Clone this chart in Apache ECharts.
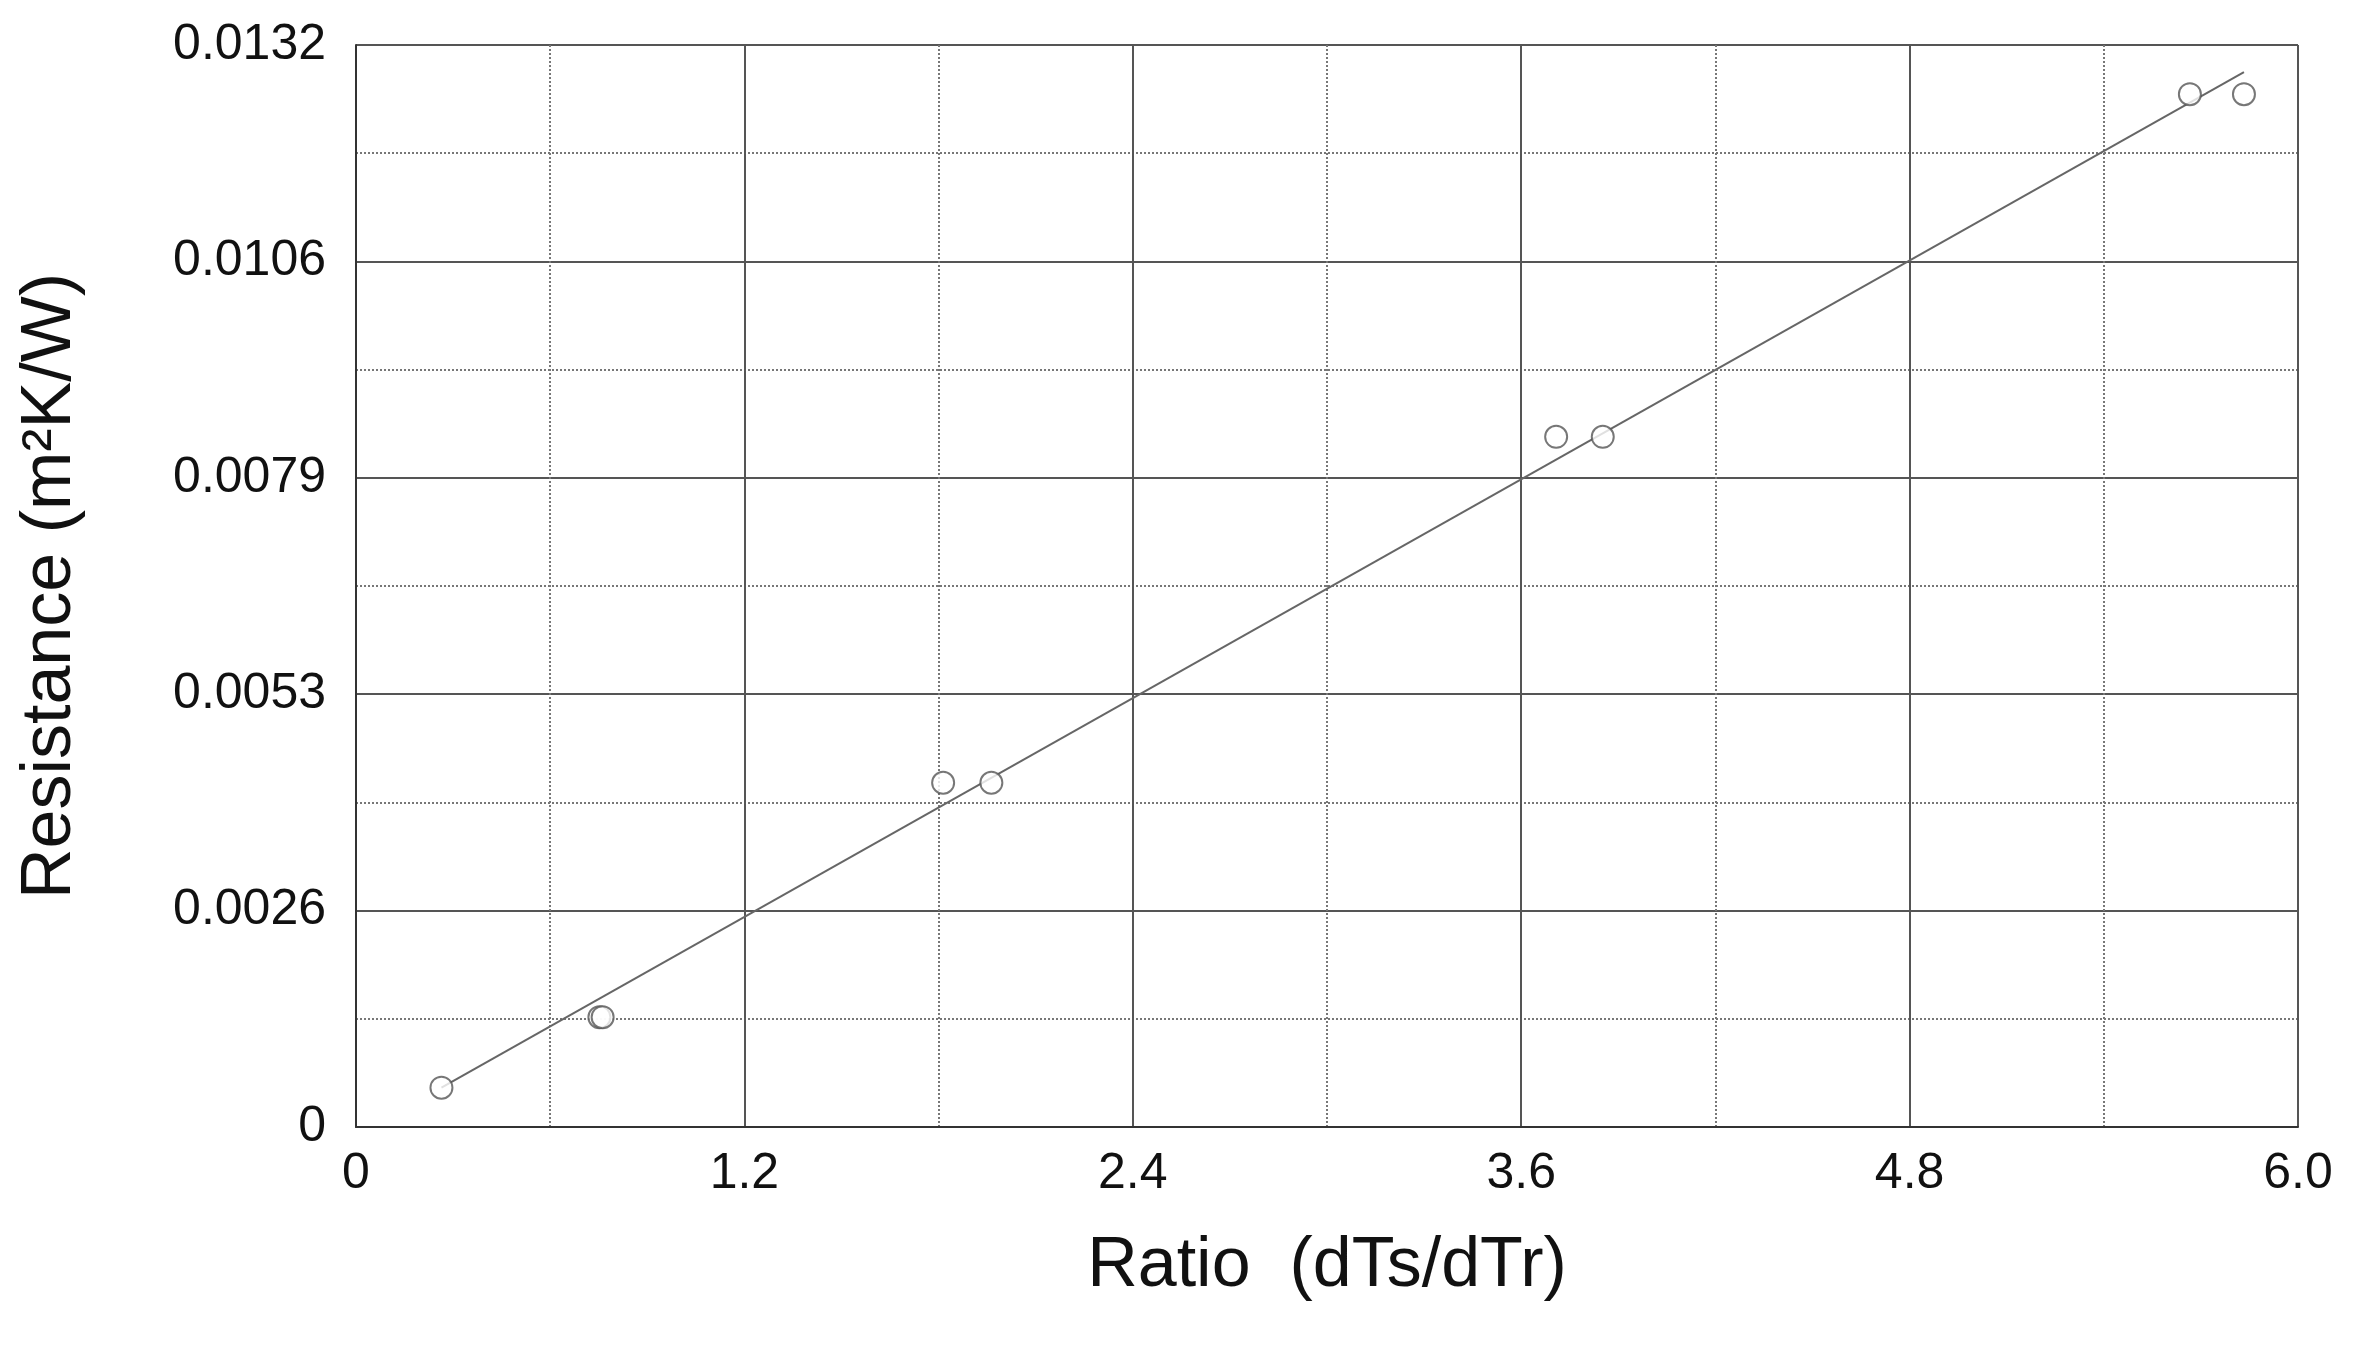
<!DOCTYPE html>
<html><head><meta charset="utf-8">
<script src="https://cdn.jsdelivr.net/npm/echarts@6/dist/echarts.min.js"></script>
<style>html,body{margin:0;background:#fff}#c{width:2355px;height:1362px}</style>
</head><body><div id="c"></div>
<script>
// measured points
var ratio = [0.264, 0.752, 0.762, 1.814, 1.963, 3.708, 3.852, 5.666, 5.833];
var resistance = [0.00048, 0.00134, 0.00134, 0.0042, 0.0042, 0.00842, 0.00842, 0.0126, 0.0126];
// fitted line ends
var fitX = [0.264, 5.833];
var fitY = [0.00048, 0.01287];

var chart = echarts.init(document.getElementById('c'));
var font = 'Liberation Sans, Arial, sans-serif';
chart.setOption({
    animation: false,
    grid: {left: 356, right: 57, top: 45, bottom: 235},
    xAxis: {
        type: 'value', min: 0, max: 6, interval: 1.2,
        name: 'Ratio  (dTs/dTr)', nameLocation: 'middle', nameGap: 105,
        nameTextStyle: {fontSize: 70, color: '#111', fontFamily: font},
        axisLine: {lineStyle: {color: '#333', width: 2}},
        axisTick: {show: false},
        axisLabel: {fontSize: 50, color: '#111', fontFamily: font, margin: 22,
            formatter: function (v) { return v === 0 ? '0' : v.toFixed(1); }},
        splitLine: {lineStyle: {color: '#555', width: 2}},
        minorTick: {show: false, splitNumber: 2},
        minorSplitLine: {show: true, lineStyle: {color: '#777', width: 2, type: 'dotted'}}
    },
    yAxis: {
        type: 'value', min: 0, max: 0.0132, interval: 0.00264,
        name: 'Resistance (m²K/W)', nameLocation: 'middle', nameGap: 270,
        nameTextStyle: {fontSize: 70, color: '#111', fontFamily: font},
        axisLine: {show: true, lineStyle: {color: '#333', width: 2}},
        axisTick: {show: false},
        axisLabel: {fontSize: 50, color: '#111', fontFamily: font, margin: 30,
            formatter: function (v) { return v === 0 ? '0' : v.toFixed(4); }},
        splitLine: {lineStyle: {color: '#555', width: 2}},
        minorTick: {show: false, splitNumber: 2},
        minorSplitLine: {show: true, lineStyle: {color: '#777', width: 2, type: 'dotted'}}
    },
    series: [{
        type: 'line', data: fitX.map(function (x, i) { return [x, fitY[i]]; }),
        symbol: 'none', lineStyle: {color: '#666', width: 2}
    }, {
        type: 'scatter', data: ratio.map(function (x, i) { return [x, resistance[i]]; }),
        symbol: 'emptyCircle', symbolSize: 22, z: 5,
        itemStyle: {color: '#555', borderColor: '#555', borderWidth: 2}
    }]
});
</script></body></html>
